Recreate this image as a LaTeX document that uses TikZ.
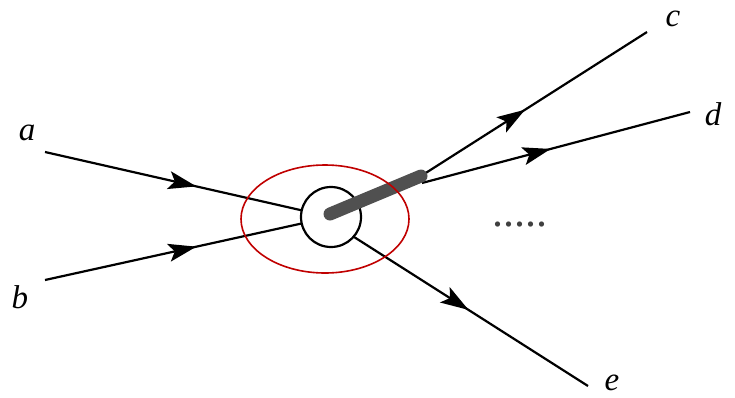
\documentclass[tikz,border=0pt]{standalone}
\usepackage{fontspec}
\setmainfont{Liberation Serif}
\usetikzlibrary{arrows.meta,decorations.markings,shapes.geometric}
\tikzset{
  leg/.style={line width=2.2pt,black},
  midarrow/.style={postaction={decorate},decoration={markings,
    mark=at position #1 with {\arrow{Stealth[length=28pt,width=18pt,inset=6pt]}}}},
  lbl/.style={font=\fontsize{33}{33}\selectfont\itshape,inner sep=0pt},
}
\begin{document}
\begin{tikzpicture}[x=1pt,y=-1pt]
\useasboundingbox (0,0) rectangle (735,397);
\node[circle,minimum size=60pt,inner sep=0pt] (v) at (331,217) {};
\coordinate (pa) at (45,152);
\coordinate (pb) at (45,280);
\coordinate (pc) at (647,32);
\coordinate (pd) at (690,112);
\coordinate (pe) at (588,386);
\coordinate (t) at (421,176);
\coordinate (td) at (422,183);
\coordinate (tc) at (330,214);
% legs
\draw[leg,midarrow=0.59] (pa) -- (v);
\draw[leg,midarrow=0.59] (pb) -- (v);
\draw[leg,midarrow=0.46] (t) -- (pc);
\draw[leg,midarrow=0.48] (td) -- (pd);
\draw[leg,midarrow=0.49] (v.-41) -- (pe);
% vertex
\draw[line width=2.2pt,fill=white] (v.center) circle (30pt);
\draw[line width=13pt,line cap=round,color={rgb,255:red,80;green,80;blue,80}] (tc) -- (t);
\node[ellipse,draw={rgb,255:red,192;green,0;blue,0},line width=1.6pt,minimum width=168pt,minimum height=108pt,inner sep=0pt] (ell) at (325,219) {};
% labels
\node[lbl] (la) at (27,133) {a};
\node[lbl] (lb) at (20,297) {b};
\node[lbl] (lc) at (673,19) {c};
\node[lbl] (ld) at (713,114) {d};
\node[lbl] (le) at (612,383) {e};
\node[font=\fontsize{44}{44}\selectfont,inner sep=0pt,text=black!75] (dots) at (520,225) {.....};
\end{tikzpicture}
\end{document}
